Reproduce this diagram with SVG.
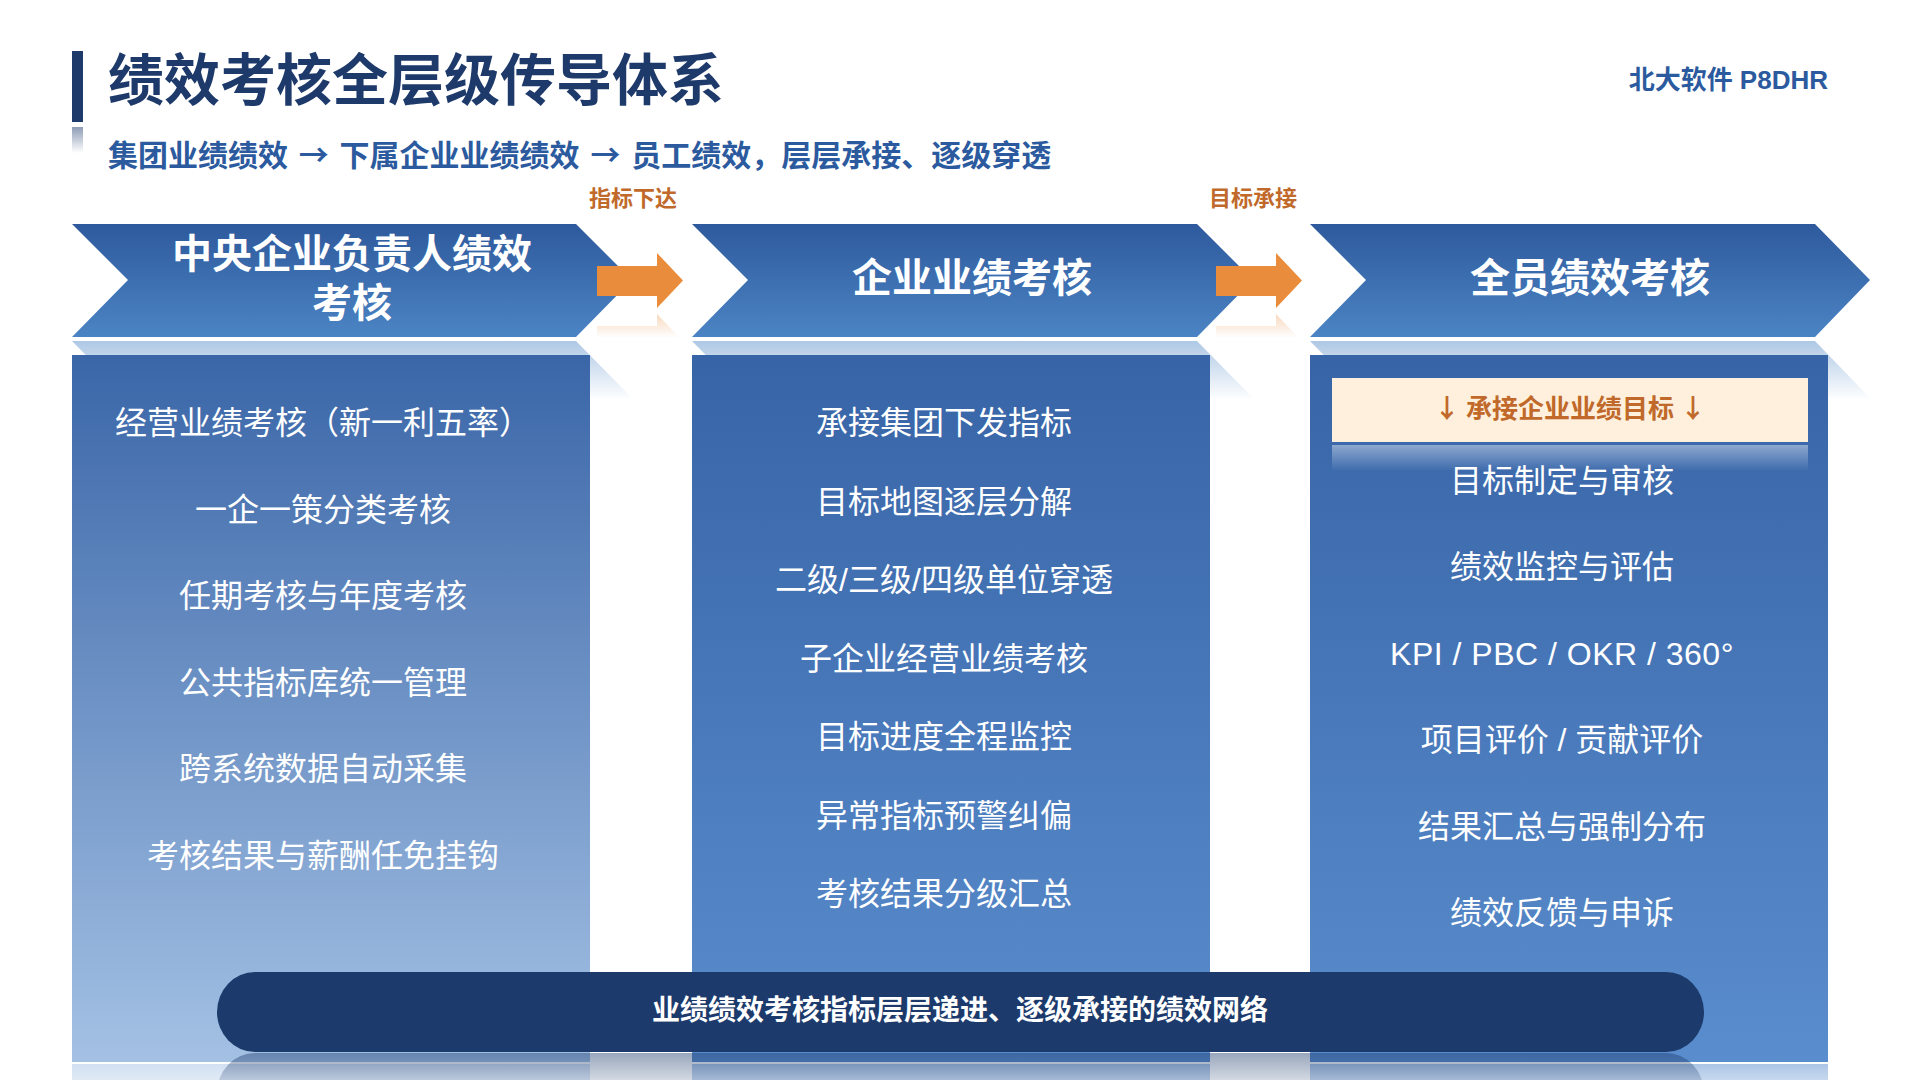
<svg xmlns="http://www.w3.org/2000/svg" width="1920" height="1080" viewBox="0 0 1920 1080">
  <style>
    .cjk { font-family: "Liberation Sans", "Noto Sans CJK SC", sans-serif; }
    .title { font-size: 56px; font-weight: 700; fill: #1e3a6b; }
    .sub { font-family: "Noto Sans CJK SC", sans-serif; font-size: 30px; font-weight: 700; fill: #2c5a9e; word-spacing: 4px; }
    .brand { font-size: 26px; font-weight: 700; fill: #2c5a9e; }
    .conn-label { font-size: 22px; font-weight: 700; fill: #c0692a; text-anchor: middle; }
    .chev-text { font-size: 40px; font-weight: 700; fill: #ffffff; text-anchor: middle; }
    .item { font-size: 32px; font-weight: 400; fill: #ffffff; text-anchor: middle; }
    .latin { letter-spacing: 0.5px; }
    .box-text { font-family: "Noto Sans CJK SC", sans-serif; font-size: 26px; font-weight: 700; fill: #c0692a; text-anchor: middle; }
    .pill-text { font-size: 28px; font-weight: 700; fill: #ffffff; text-anchor: middle; }
  </style>
  <defs>
    <linearGradient id="chevGrad" x1="0" y1="0" x2="0" y2="1">
      <stop offset="0" stop-color="#2e5a9d"/>
      <stop offset="1" stop-color="#4b84c4"/>
    </linearGradient>
    <linearGradient id="chevRefl" gradientUnits="userSpaceOnUse" x1="0" y1="341" x2="0" y2="400">
      <stop offset="0" stop-color="#4b84c4" stop-opacity="0.45"/>
      <stop offset="1" stop-color="#4b84c4" stop-opacity="0"/>
    </linearGradient>
    <linearGradient id="p1Grad" x1="0" y1="0" x2="0" y2="1">
      <stop offset="0" stop-color="#3a66a8"/>
      <stop offset="1" stop-color="#a4c1e4"/>
    </linearGradient>
    <linearGradient id="p2Grad" x1="0" y1="0" x2="0" y2="1">
      <stop offset="0" stop-color="#3764a6"/>
      <stop offset="1" stop-color="#5a8dcd"/>
    </linearGradient>
    <linearGradient id="p1Refl" x1="0" y1="0" x2="0" y2="1">
      <stop offset="0" stop-color="#a4c1e4" stop-opacity="0.5"/>
      <stop offset="1" stop-color="#a4c1e4" stop-opacity="0.1"/>
    </linearGradient>
    <linearGradient id="p2Refl" x1="0" y1="0" x2="0" y2="1">
      <stop offset="0" stop-color="#5a8dcd" stop-opacity="0.5"/>
      <stop offset="1" stop-color="#5a8dcd" stop-opacity="0.1"/>
    </linearGradient>
    <linearGradient id="arrowRefl" gradientUnits="userSpaceOnUse" x1="0" y1="313" x2="0" y2="338">
      <stop offset="0" stop-color="#e98c3b" stop-opacity="0.35"/>
      <stop offset="1" stop-color="#e98c3b" stop-opacity="0"/>
    </linearGradient>
    <linearGradient id="boxRefl" x1="0" y1="0" x2="0" y2="1">
      <stop offset="0" stop-color="#ffffff" stop-opacity="0.42"/>
      <stop offset="1" stop-color="#ffffff" stop-opacity="0"/>
    </linearGradient>
    <linearGradient id="pillRefl" gradientUnits="userSpaceOnUse" x1="0" y1="1053" x2="0" y2="1100">
      <stop offset="0" stop-color="#1c3a6b" stop-opacity="0.45"/>
      <stop offset="1" stop-color="#1c3a6b" stop-opacity="0"/>
    </linearGradient>
    <linearGradient id="barRefl" x1="0" y1="0" x2="0" y2="1">
      <stop offset="0" stop-color="#1e3a6b" stop-opacity="0.5"/>
      <stop offset="1" stop-color="#1e3a6b" stop-opacity="0"/>
    </linearGradient>
  </defs>

  <rect width="1920" height="1080" fill="#ffffff"/>

  <g id="header" class="cjk">
    <rect x="72" y="51" width="11" height="71" fill="#1e3a6b"/>
    <rect x="72" y="127" width="11" height="26" fill="url(#barRefl)"/>
    <text class="title" x="108" y="100">绩效考核全层级传导体系</text>
    <text class="sub" x="108" y="166">集团业绩绩效 → 下属企业业绩绩效 → 员工绩效，层层承接、逐级穿透</text>
    <text class="brand" x="1828" y="89" text-anchor="end">北大软件 P8DHR</text>
  </g>

  <g id="reflections">
    <polygon points="72,454 576,454 632,398 576,341 72,341 128,398" fill="url(#chevRefl)"/>
    <polygon points="692,454 1197,454 1253,398 1197,341 692,341 748,398" fill="url(#chevRefl)"/>
    <polygon points="1310,454 1815,454 1870,398 1815,341 1310,341 1366,398" fill="url(#chevRefl)"/>
  </g>

  <g id="col-central" class="cjk">
    <polygon points="72,224 576,224 632,280 576,337 72,337 128,280" fill="url(#chevGrad)"/>
    <text class="chev-text" x="352" y="268">中央企业负责人绩效</text>
    <text class="chev-text" x="352" y="317">考核</text>
    <rect x="72" y="355" width="518" height="707" fill="url(#p1Grad)"/>
    <rect x="72" y="1064" width="518" height="40" fill="url(#p1Refl)"/>
    <text class="item" x="323" y="434">经营业绩考核（新一利五率）</text>
    <text class="item" x="323" y="521">一企一策分类考核</text>
    <text class="item" x="323" y="607">任期考核与年度考核</text>
    <text class="item" x="323" y="694">公共指标库统一管理</text>
    <text class="item" x="323" y="780">跨系统数据自动采集</text>
    <text class="item" x="323" y="867">考核结果与薪酬任免挂钩</text>
  </g>

  <g id="col-enterprise" class="cjk">
    <polygon points="692,224 1197,224 1253,280 1197,337 692,337 748,280" fill="url(#chevGrad)"/>
    <text class="chev-text" x="972" y="292">企业业绩考核</text>
    <rect x="692" y="355" width="518" height="707" fill="url(#p2Grad)"/>
    <rect x="692" y="1064" width="518" height="40" fill="url(#p2Refl)"/>
    <text class="item" x="944" y="434">承接集团下发指标</text>
    <text class="item" x="944" y="513">目标地图逐层分解</text>
    <text class="item" x="944" y="591">二级/三级/四级单位穿透</text>
    <text class="item" x="944" y="670">子企业经营业绩考核</text>
    <text class="item" x="944" y="748">目标进度全程监控</text>
    <text class="item" x="944" y="827">异常指标预警纠偏</text>
    <text class="item" x="944" y="905">考核结果分级汇总</text>
  </g>

  <g id="col-staff" class="cjk">
    <polygon points="1310,224 1815,224 1870,280 1815,337 1310,337 1366,280" fill="url(#chevGrad)"/>
    <text class="chev-text" x="1590" y="292">全员绩效考核</text>
    <rect x="1310" y="355" width="518" height="707" fill="url(#p2Grad)"/>
    <rect x="1310" y="1064" width="518" height="40" fill="url(#p2Refl)"/>
    <rect x="1332" y="378" width="476" height="64" fill="#fef0dc"/>
    <rect x="1332" y="445" width="476" height="26" fill="url(#boxRefl)"/>
    <text class="box-text" x="1570" y="418">↓ 承接企业业绩目标 ↓</text>
    <text class="item" x="1562" y="492">目标制定与审核</text>
    <text class="item" x="1562" y="578">绩效监控与评估</text>
    <text class="item latin" x="1562" y="665">KPI / PBC / OKR / 360°</text>
    <text class="item" x="1562" y="751">项目评价 / 贡献评价</text>
    <text class="item" x="1562" y="838">结果汇总与强制分布</text>
    <text class="item" x="1562" y="924">绩效反馈与申诉</text>
  </g>

  <g id="connectors" class="cjk">
    <polygon points="597,266 657,266 657,253 683,280.5 657,308 657,296 597,296" fill="#e98c3b"/>
    <polygon points="597,356 657,356 657,369 683,341.5 657,314 657,326 597,326" fill="url(#arrowRefl)"/>
    <text class="conn-label" x="633" y="206">指标下达</text>
    <polygon points="1216,266 1276,266 1276,253 1302,280.5 1276,308 1276,296 1216,296" fill="#e98c3b"/>
    <polygon points="1216,356 1276,356 1276,369 1302,341.5 1276,314 1276,326 1216,326" fill="url(#arrowRefl)"/>
    <text class="conn-label" x="1253" y="206">目标承接</text>
  </g>

  <g id="summary" class="cjk">
    <rect x="217" y="972" width="1487" height="80" rx="38" ry="40" fill="#1c3a6b"/>
    <rect x="217" y="1053" width="1487" height="80" rx="38" ry="40" fill="url(#pillRefl)"/>
    <text class="pill-text" x="960" y="1020">业绩绩效考核指标层层递进、逐级承接的绩效网络</text>
  </g>
</svg>
